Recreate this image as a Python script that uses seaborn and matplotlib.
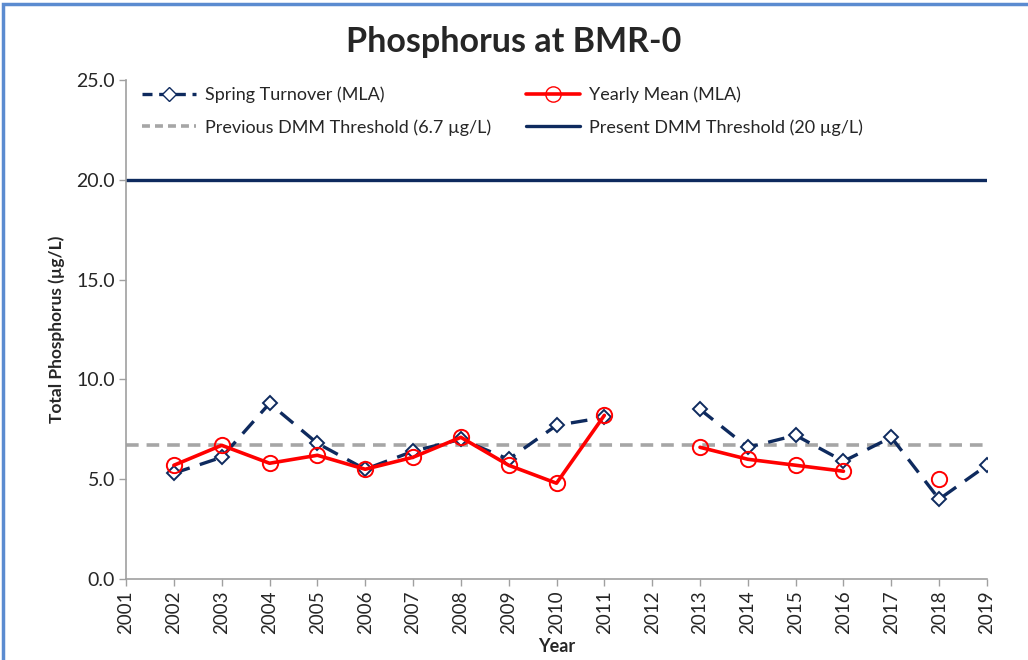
import numpy as np
import pandas as pd
import matplotlib
matplotlib.use("Agg")
import matplotlib.pyplot as plt
import seaborn as sns
from matplotlib.lines import Line2D
from matplotlib.patches import Rectangle

years = list(range(2001, 2020))
spring_turnover = [np.nan, 5.3, 6.1, 8.8, 6.8, 5.5, 6.4, 7.0, 6.0, 7.7, 8.1,
                   np.nan, 8.5, 6.6, 7.2, 5.9, 7.1, 4.0, 5.7]
yearly_mean = [np.nan, 5.7, 6.7, 5.8, 6.2, 5.5, 6.1, 7.1, 5.7, 4.8, 8.2,
               np.nan, 6.6, 6.0, 5.7, 5.4, np.nan, 5.0, np.nan]
prev_threshold = 6.7
present_threshold = 20.0
y_ticks = [0, 5, 10, 15, 20, 25]

NAVY = "#0E2A5E"
RED = "#FF0000"
GRAY = "#A6A6A6"


def segmented(values, name):
    seg = 0
    rows = []
    prev_nan = True
    for yr, v in zip(years, values):
        if np.isnan(v):
            prev_nan = True
            continue
        if prev_nan:
            seg += 1
        prev_nan = False
        rows.append({"Year": yr, "Value": v, "segment": seg, "series": name})
    return pd.DataFrame(rows)


df_spring = segmented(spring_turnover, "spring")
df_mean = segmented(yearly_mean, "mean")

sns.set_theme(style="white")
plt.rcParams["font.family"] = ["Lato", "DejaVu Sans"]

fig = plt.figure(figsize=(10.28, 6.6), dpi=100)
ax = fig.add_axes([0.1226, 0.1227, 0.8375, 0.756])

# thresholds
ax.axhline(present_threshold, color=NAVY, lw=2.4, zorder=1)
ax.axhline(prev_threshold, color=GRAY, lw=2.6, ls=(0, (3.5, 2.2)), zorder=1)

sns.lineplot(data=df_spring, x="Year", y="Value", units="segment", estimator=None,
             color=NAVY, lw=2.4, ax=ax, marker="D", markersize=7.5,
             markerfacecolor="white", markeredgecolor=NAVY, markeredgewidth=1.4,
             zorder=3)
for l in ax.lines[-len(df_spring["segment"].unique()):]:
    l.set_linestyle((0, (5, 3.2)))

sns.lineplot(data=df_mean, x="Year", y="Value", units="segment", estimator=None,
             color=RED, lw=2.6, ax=ax, marker="o", markersize=11,
             markerfacecolor="none", markeredgecolor=RED, markeredgewidth=1.4,
             zorder=4)

ax.set_xlim(2001, 2019)
ax.set_ylim(0, 25)
ax.set_xticks(years)
ax.set_xticklabels([str(y) for y in years], rotation=90, fontsize=13.5)
ax.set_yticks(y_ticks)
ax.set_yticklabels([f"{v:.1f}" for v in y_ticks], fontsize=14)
ax.tick_params(axis="both", which="both", direction="out", length=5,
               width=1, color="#A0A0A0", bottom=True, left=True, pad=3)

for s in ["top", "right"]:
    ax.spines[s].set_visible(False)
for s in ["left", "bottom"]:
    ax.spines[s].set_color("#A0A0A0")
    ax.spines[s].set_linewidth(1.2)

ax.set_xlabel("Year", fontsize=13, fontweight="bold", labelpad=3)
ax.set_ylabel("Total Phosphorus (µg/L)", fontsize=12.5, fontweight="bold", labelpad=8)
fig.suptitle("Phosphorus at BMR-0", fontsize=24.5, fontweight="bold", y=0.96)

handles = [
    Line2D([], [], color=NAVY, lw=2.4, ls=(0, (3, 2)), marker="D", markersize=7,
           markerfacecolor="white", markeredgecolor=NAVY),
    Line2D([], [], color=GRAY, lw=2.6, ls=(0, (2.2, 1.4))),
    Line2D([], [], color=RED, lw=2.6, marker="o", markersize=11,
           markerfacecolor="none", markeredgecolor=RED),
    Line2D([], [], color=NAVY, lw=2.4),
]
labels = ["Spring Turnover (MLA)", "Previous DMM Threshold (6.7 µg/L)",
          "Yearly Mean (MLA)", "Present DMM Threshold (20 µg/L)"]
ax.legend(handles, labels, ncol=2, loc="upper left", bbox_to_anchor=(0.0, 1.02),
          frameon=False, fontsize=13, handlelength=3.0, columnspacing=1.9,
          handletextpad=0.5, labelspacing=0.9)

fig.add_artist(Rectangle((0.003, -0.01), 1.2, 1.004, transform=fig.transFigure,
                         fill=False, edgecolor="#5B8BD0", lw=2.5))

fig.savefig("out.png", dpi=100)
